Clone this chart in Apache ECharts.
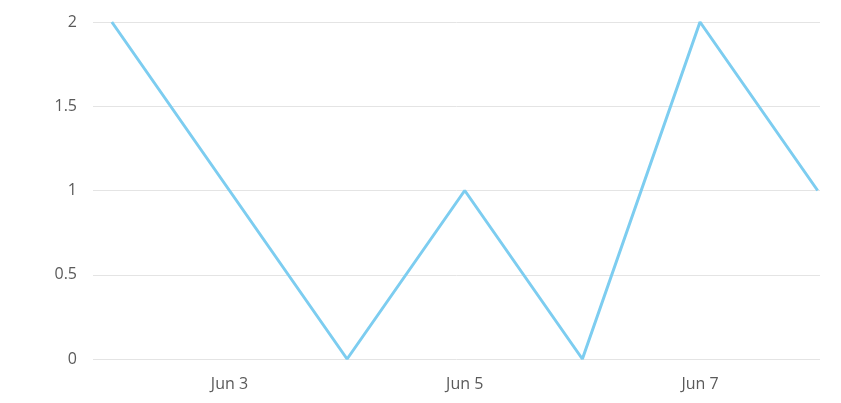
<!DOCTYPE html>
<html><head><meta charset="utf-8">
<script src="https://cdn.jsdelivr.net/npm/echarts@6/dist/echarts.min.js"></script>
<style>html,body{margin:0;padding:0;background:#fff}#c{width:841px;height:403px}</style>
</head><body><div id="c"></div>
<script>
const days = [2, 3, 4, 5, 6, 7, 8];
const values = [2, 1, 0, 1, 0, 2, 1];
const xTickDays = [3, 5, 7];
const monthLabel = 'Jun';
const yTicks = [0, 0.5, 1, 1.5, 2];

const chart = echarts.init(document.getElementById('c'), null, {renderer: 'canvas'});
chart.setOption({
  animation: false,
  backgroundColor: '#ffffff',
  grid: {left: 93, right: 21, top: 22, bottom: 44, containLabel: false},
  xAxis: {
    type: 'value', min: 1.84, max: 8.02,
    axisLine: {show: false}, axisTick: {show: false}, splitLine: {show: false},
    axisLabel: {
      customValues: xTickDays,
      formatter: v => monthLabel + ' ' + v,
      color: '#5a5a5a', fontSize: 16, fontFamily: 'Open Sans', margin: 17
    }
  },
  yAxis: {
    type: 'value', min: 0, max: 2, interval: 0.5,
    axisLine: {show: false}, axisTick: {show: false},
    splitLine: {lineStyle: {color: '#e4e4e4', width: 1}},
    axisLabel: {color: '#5a5a5a', fontSize: 16, fontFamily: 'Open Sans', margin: 16,
      formatter: v => String(v)}
  },
  series: [{
    type: 'line',
    data: days.map((d, i) => [d, values[i]]),
    showSymbol: false, symbol: 'none',
    lineStyle: {color: '#7dcdf0', width: 3},
    itemStyle: {color: '#7dcdf0'}
  }]
});
</script></body></html>
